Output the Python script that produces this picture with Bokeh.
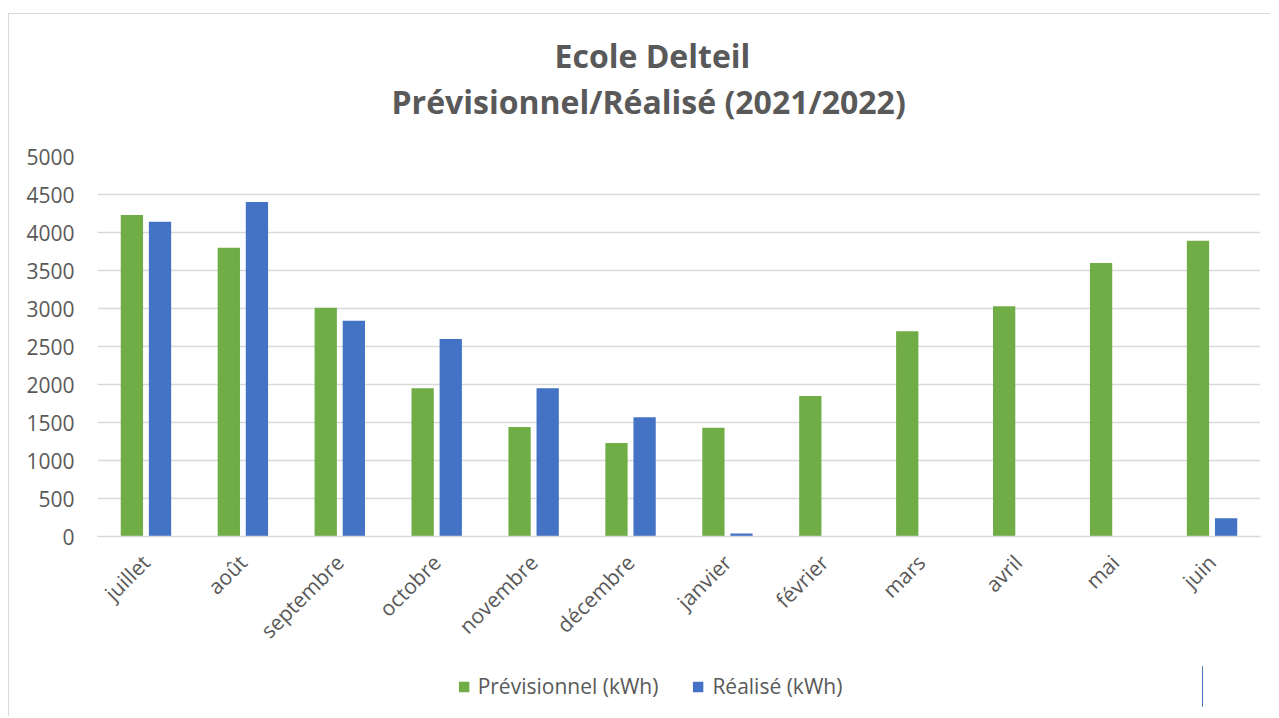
import math
from bokeh.plotting import figure
from bokeh.layouts import column
from bokeh.models import ColumnDataSource, Range1d, FactorRange, Legend, LegendItem, Title, FixedTicker
from bokeh.transform import dodge
from bokeh.embed import file_html
from bokeh.resources import INLINE

months = ["juillet", "août", "septembre", "octobre", "novembre", "décembre",
          "janvier", "février", "mars", "avril", "mai", "juin"]
previsionnel = [4230, 3800, 3010, 1950, 1440, 1230, 1430, 1850, 2700, 3030, 3600, 3890]
realise = [4140, 4400, 2840, 2600, 1950, 1570, 40, 0, 0, 0, 0, 240]
y_ticks = [0, 500, 1000, 1500, 2000, 2500, 3000, 3500, 4000, 4500, 5000]

series_names = ["Prévisionnel (kWh)", "Réalisé (kWh)"]
colors = ["#70ad47", "#4472c4"]
grey = "#595959"
grid = "#d9d9d9"
font = "Open Sans"

src = ColumnDataSource(dict(month=months, prev=previsionnel, real=realise))

p = figure(x_range=FactorRange(*months, range_padding=0), y_range=Range1d(0, 5000),
           frame_width=1162, frame_height=379, output_backend="svg", toolbar_location=None,
           min_border_left=88, min_border_right=11, min_border_top=142, min_border_bottom=160)
p.styles = {"border-top": "1px solid #d9d9d9", "border-left": "1px solid #d9d9d9"}
p.outline_line_color = None

p.vbar(x=dodge("month", -0.145, range=p.x_range), top="prev", width=0.23, source=src,
       fill_color=colors[0], line_color=None)
p.vbar(x=dodge("month", 0.145, range=p.x_range), top="real", width=0.23, source=src,
       fill_color=colors[1], line_color=None)

# spacer between the plot frame and the title block
p.add_layout(Title(text=" ", text_font_size="1px", standoff=31), "above")
p.add_layout(Title(text="Prévisionnel/Réalisé (2021/2022)", align="left", offset=294, text_font=font,
                   text_font_size="32px", text_font_style="bold", text_color=grey, standoff=0), "above")
p.add_layout(Title(text="Ecole Delteil", align="left", offset=457, text_font=font,
                   text_font_size="32px", text_font_style="bold", text_color=grey, standoff=2), "above")

p.xgrid.grid_line_color = None
p.ygrid.grid_line_color = grid
p.ygrid.grid_line_width = 1.5
p.yaxis.ticker = FixedTicker(ticks=y_ticks)
p.yaxis.axis_line_color = None
p.yaxis.major_tick_line_color = None
p.yaxis.minor_tick_line_color = None
p.yaxis.major_label_text_font = font
p.yaxis.major_label_text_font_size = "21px"
p.yaxis.major_label_text_color = grey
p.yaxis.major_label_standoff = 17

p.xaxis.axis_line_color = grid
p.xaxis.axis_line_width = 1.5
p.xaxis.major_tick_line_color = None
p.xaxis.minor_tick_line_color = None
p.xaxis.major_label_orientation = math.pi / 4
p.xaxis.major_label_text_font = font
p.xaxis.major_label_text_font_size = "21px"
p.xaxis.major_label_text_color = grey
p.xaxis.major_label_standoff = 16

# legend strip below the chart: its renderers use the series values, which all lie far
# outside this strip's 0..1 range, so only the legend entries are visible
lg = figure(width=1204, height=50, output_backend="svg", toolbar_location=None,
            x_range=Range1d(0, 1), y_range=Range1d(0, 1),
            min_border_left=0, min_border_right=0, min_border_top=0, min_border_bottom=10)
lg.axis.visible = False
lg.grid.visible = False
lg.outline_line_color = None
lg.background_fill_alpha = 0
lg.border_fill_alpha = 0
lg.styles = {"margin-top": "-29px", "border-left": "1px solid #d9d9d9"}
g1 = lg.vbar(x="prev", top="prev", width=0.1, source=src, fill_color=colors[0], line_color=None)
g2 = lg.vbar(x="prev", top="prev", width=0.1, source=src, fill_color=colors[1], line_color=None)
legend = Legend(items=[LegendItem(label=series_names[0], renderers=[g1]),
                       LegendItem(label=series_names[1], renderers=[g2])],
                orientation="horizontal", location="center", margin=0,
                border_line_color=None, background_fill_alpha=0,
                label_text_font=font, label_text_font_size="21px", label_text_color=grey,
                glyph_width=13, glyph_height=13, label_standoff=8, spacing=33, padding=0)
lg.add_layout(legend, "center")

layout = column(p, lg, spacing=0)
layout.styles = {"margin-top": "13px", "margin-left": "8px"}

open("out.html", "w").write(file_html(layout, INLINE))
